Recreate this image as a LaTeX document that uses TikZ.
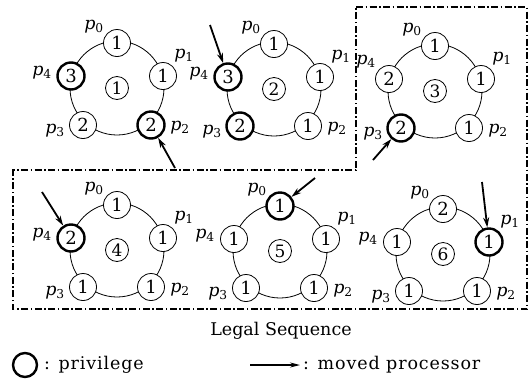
\documentclass[tikz,border=0pt]{standalone}
\usepackage{fontspec}
\setmainfont{DejaVu Serif}
\usetikzlibrary{calc,arrows.meta}
\newcommand\pl[1]{\textit{p}\textsubscript{#1}}
\newcommand\wide{\addfontfeatures{LetterSpace=5}}
\begin{document}
\begin{tikzpicture}[x=1pt,y=-1pt,
  proc/.style={circle,draw,fill=white,minimum size=27pt,inner sep=0pt,line width=0.8pt,font=\fontsize{18}{20}\selectfont},
  priv/.style={proc,line width=2.4pt},
  cnum/.style={circle,draw,fill=white,minimum size=23pt,inner sep=0pt,line width=0.8pt,font=\fontsize{17}{19}\selectfont},
  ring/.style={line width=0.8pt},
  lab/.style={inner sep=0pt,font=\fontsize{17.5}{19}\selectfont},
  mover/.style={line width=1.8pt,-{Stealth[length=10pt,width=6pt]}},
  frame/.style={line width=1.4pt,dash pattern=on 7pt off 2.5pt on 1.5pt off 2.5pt},
  txt/.style={inner sep=0pt,font=\fontsize{17.5}{20}\selectfont},
  legtxt/.style={txt,font=\fontsize{17.5}{20}\selectfont\wide},
]
\useasboundingbox (0,0) rectangle (530,381);

% frame
\draw[frame] (356,7) -- (527,7) -- (527,309) -- (13,309) -- (13,170) -- (356,170) -- cycle;

% diagram 1
\begin{scope}[shift={(117,88)}]
  \draw[ring] (0,0) circle (47);
  \node[proc] (a0) at (0,-45) {1};
  \node[proc] (a1) at (46,-12) {1};
  \node[priv] (a2) at (34,37) {2};
  \node[proc] (a3) at (-34,37) {2};
  \node[priv] (a4) at (-46,-12) {3};
  \node[cnum] (ac) at (0,0) {1};
\end{scope}
\node[lab] (la0) at ($(a0)+(-23,-16)$) {\pl0};
\node[lab] (la1) at ($(a1)+(21,-20)$) {\pl1};
\node[lab] (la2) at ($(a2)+(29,3)$) {\pl2};
\node[lab] (la3) at ($(a3)+(-28,6)$) {\pl3};
\node[lab] (la4) at ($(a4)+(-29,-3)$) {\pl4};
\coordinate (ta) at (175,168);
\draw[mover] (ta) -- (a2);

% diagram 2
\begin{scope}[shift={(274,89)}]
  \draw[ring] (0,0) circle (47);
  \node[proc] (b0) at (0,-45) {1};
  \node[proc] (b1) at (46,-12) {1};
  \node[proc] (b2) at (34,37) {1};
  \node[priv] (b3) at (-34,37) {2};
  \node[priv] (b4) at (-46,-12) {3};
  \node[cnum] (bc) at (0,0) {2};
\end{scope}
\node[lab] (lb0) at ($(b0)+(-23,-16)$) {\pl0};
\node[lab] (lb1) at ($(b1)+(21,-20)$) {\pl1};
\node[lab] (lb2) at ($(b2)+(29,3)$) {\pl2};
\node[lab] (lb3) at ($(b3)+(-28,6)$) {\pl3};
\node[lab] (lb4) at ($(b4)+(-29,-3)$) {\pl4};
\coordinate (tb) at (210,25);
\draw[mover] (tb) -- (b4);

% diagram 3
\begin{scope}[shift={(435,91)}]
  \draw[ring] (0,0) circle (47);
  \node[proc] (c0) at (0,-45) {1};
  \node[proc] (c1) at (46,-12) {1};
  \node[proc] (c2) at (34,37) {1};
  \node[priv] (c3) at (-34,37) {2};
  \node[proc] (c4) at (-46,-12) {2};
  \node[cnum] (cc) at (0,0) {3};
\end{scope}
\node[lab] (lc0) at ($(c0)+(-23,-16)$) {\pl0};
\node[lab] (lc1) at ($(c1)+(21,-20)$) {\pl1};
\node[lab] (lc2) at ($(c2)+(29,3)$) {\pl2};
\node[lab] (lc3) at ($(c3)+(-28,6)$) {\pl3};
\node[lab] (lc4) at ($(c4)+(-23,-17)$) {\pl4};
\coordinate (tc) at (373,160);
\draw[mover] (tc) -- (c3);

% diagram 4
\begin{scope}[shift={(117,250)}]
  \draw[ring] (0,0) circle (47);
  \node[proc] (d0) at (0,-45) {1};
  \node[proc] (d1) at (46,-12) {1};
  \node[proc] (d2) at (34,37) {1};
  \node[proc] (d3) at (-34,37) {1};
  \node[priv] (d4) at (-46,-12) {2};
  \node[cnum] (dc) at (0,0) {4};
\end{scope}
\node[lab] (ld0) at ($(d0)+(-23,-16)$) {\pl0};
\node[lab] (ld1) at ($(d1)+(21,-20)$) {\pl1};
\node[lab] (ld2) at ($(d2)+(29,3)$) {\pl2};
\node[lab] (ld3) at ($(d3)+(-28,6)$) {\pl3};
\node[lab] (ld4) at ($(d4)+(-29,-3)$) {\pl4};
\coordinate (td) at (42,192);
\draw[mover] (td) -- (d4);

% diagram 5
\begin{scope}[shift={(280,251)}]
  \draw[ring] (0,0) circle (47);
  \node[priv] (e0) at (0,-45) {1};
  \node[proc] (e1) at (46,-12) {1};
  \node[proc] (e2) at (34,37) {1};
  \node[proc] (e3) at (-34,37) {1};
  \node[proc] (e4) at (-46,-12) {1};
  \node[cnum] (ec) at (0,0) {5};
\end{scope}
\node[lab] (le0) at ($(e0)+(-23,-16)$) {\pl0};
\node[lab] (le1) at ($(e1)+(21,-20)$) {\pl1};
\node[lab] (le2) at ($(e2)+(29,3)$) {\pl2};
\node[lab] (le3) at ($(e3)+(-28,6)$) {\pl3};
\node[lab] (le4) at ($(e4)+(-29,-3)$) {\pl4};
\coordinate (te) at (315,178);
\draw[mover] (te) -- (e0);

% diagram 6
\begin{scope}[shift={(443,254)}]
  \draw[ring] (0,0) circle (47);
  \node[proc] (f0) at (0,-45) {2};
  \node[priv] (f1) at (46,-12) {1};
  \node[proc] (f2) at (34,37) {1};
  \node[proc] (f3) at (-34,37) {1};
  \node[proc] (f4) at (-46,-12) {1};
  \node[cnum] (fc) at (0,0) {6};
\end{scope}
\node[lab] (lf0) at ($(f0)+(-23,-16)$) {\pl0};
\node[lab] (lf1) at ($(f1)+(21,-20)$) {\pl1};
\node[lab] (lf2) at ($(f2)+(29,3)$) {\pl2};
\node[lab] (lf3) at ($(f3)+(-28,6)$) {\pl3};
\node[lab] (lf4) at ($(f4)+(-29,-3)$) {\pl4};
\coordinate (tf) at (482,182);
\draw[mover] (tf) -- (f1);

% caption and legend
\node[txt] (title) at (281,331) {Legal Sequence};
\node[circle,draw,line width=2.4pt,minimum size=24pt,inner sep=0pt] (legc) at (25,365) {};
\node[legtxt,anchor=west] (legt1) at (44,365) {: privilege};
\coordinate (lega) at (250,365);
\coordinate (legb) at (300,365);
\draw[line width=1.2pt,-{Stealth[length=10pt,width=5pt]}] (lega) -- (legb);
\node[legtxt,anchor=west] (legt2) at (303,365) {: moved processor};
\end{tikzpicture}
\end{document}
